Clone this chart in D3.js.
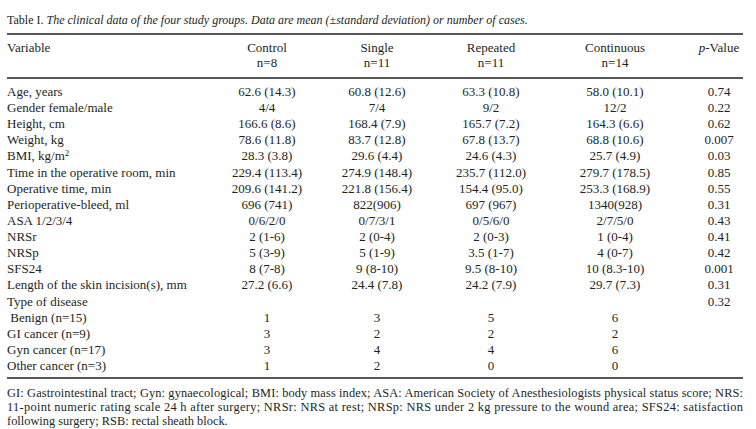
<!DOCTYPE html>
<html><head><meta charset="utf-8">
<script src="https://cdn.jsdelivr.net/npm/d3@7"></script>
<style>
html,body{margin:0;padding:0;background:#fff;}
svg{display:block;font-family:"Liberation Serif","Times New Roman",serif;}
</style></head>
<body>
<svg id="chart" width="756" height="429"></svg>
<script>
const groups = ["Control","Single","Repeated","Continuous"];
const groupN = ["n=8","n=11","n=11","n=14"];
const variables = ["Age, years","Gender female/male","Height, cm","Weight, kg","BMI, kg/m","Time in the operative room, min","Operative time, min","Perioperative-bleed, ml","ASA 1/2/3/4","NRSr","NRSp","SFS24","Length of the skin incision(s), mm","Type of disease"," Benign (n=15)","GI cancer (n=9)","Gyn cancer (n=17)","Other cancer (n=3)"];
const control = ["62.6 (14.3)","4/4","166.6 (8.6)","78.6 (11.8)","28.3 (3.8)","229.4 (113.4)","209.6 (141.2)","696 (741)","0/6/2/0","2 (1-6)","5 (3-9)","8 (7-8)","27.2 (6.6)","","1","3","3","1"];
const single = ["60.8 (12.6)","7/4","168.4 (7.9)","83.7 (12.8)","29.6 (4.4)","274.9 (148.4)","221.8 (156.4)","822(906)","0/7/3/1","2 (0-4)","5 (1-9)","9 (8-10)","24.4 (7.8)","","3","2","4","2"];
const repeated = ["63.3 (10.8)","9/2","165.7 (7.2)","67.8 (13.7)","24.6 (4.3)","235.7 (112.0)","154.4 (95.0)","697 (967)","0/5/6/0","2 (0-3)","3.5 (1-7)","9.5 (8-10)","24.2 (7.9)","","5","2","4","0"];
const continuous = ["58.0 (10.1)","12/2","164.3 (6.6)","68.8 (10.6)","25.7 (4.9)","279.7 (178.5)","253.3 (168.9)","1340(928)","2/7/5/0","1 (0-4)","4 (0-7)","10 (8.3-10)","29.7 (7.3)","","6","2","6","0"];
const pValues = ["0.74","0.22","0.62","0.007","0.03","0.85","0.55","0.31","0.43","0.41","0.42","0.001","0.31","0.32","","","",""];
const footnote = [
 "GI: Gastrointestinal tract; Gyn: gynaecological; BMI: body mass index; ASA: American Society of Anesthesiologists physical status score; NRS:",
 "11-point numeric rating scale 24 h after surgery; NRSr: NRS at rest; NRSp: NRS under 2 kg pressure to the wound area; SFS24: satisfaction",
 "following surgery; RSB: rectal sheath block."
];

const svg = d3.select("#chart");
const L = 7, R = 743;
const color = "#231f20";
const FS = 13;

// title
const title = svg.append("text").attr("x", L).attr("y", 24).attr("font-size", 12).attr("fill", color);
title.append("tspan").text("Table I. ");
title.append("tspan").attr("font-style","italic").text("The clinical data of the four study groups. Data are mean (\u00B1standard deviation) or number of cases.");

// rules
const rules = [34, 78, 378];
svg.selectAll("line.rule").data(rules).join("line")
  .attr("x1", L).attr("x2", R).attr("y1", d=>d).attr("y2", d=>d)
  .attr("stroke", color).attr("stroke-width", 1.3);

// column scale
const cols = ["Control","Single","Repeated","Continuous","p"];
const x = d3.scaleOrdinal().domain(cols).range([267, 377, 491, 615, 719]);

// header
svg.append("text").attr("x", L).attr("y", 52).attr("font-size", FS).attr("fill", color).text("Variable");
svg.selectAll("text.gh").data(groups).join("text").attr("class","gh")
  .attr("x", d=>x(d)).attr("y", 52).attr("text-anchor","middle").attr("font-size",FS).attr("fill",color).text(d=>d);
svg.selectAll("text.gn").data(groups.map((g,i)=>({g,n:groupN[i]}))).join("text").attr("class","gn")
  .attr("x", d=>x(d.g)).attr("y", 67).attr("text-anchor","middle").attr("font-size",FS).attr("fill",color).text(d=>d.n);
const ph = svg.append("text").attr("x", x("p")).attr("y", 52).attr("text-anchor","middle").attr("font-size",FS).attr("fill",color);
ph.append("tspan").attr("font-style","italic").text("p");
ph.append("tspan").text("-Value");

// rows
const y = d3.scalePoint().domain(d3.range(variables.length)).range([96, 370]);
const rows = svg.selectAll("g.row").data(variables.map((v,i)=>({v,i}))).join("g").attr("class","row")
  .attr("transform", d=>`translate(0,${y(d.i)})`);
rows.append("text").attr("x", L).attr("font-size",FS).attr("fill",color).attr("xml:space","preserve")
  .each(function(d){
    const t = d3.select(this);
    t.append("tspan").text(d.v);
    if (d.v === "BMI, kg/m") t.append("tspan").attr("dy",-4).attr("font-size",9).text("2");
  });
const series = {Control:control, Single:single, Repeated:repeated, Continuous:continuous, p:pValues};
cols.forEach(c=>{
  rows.append("text").attr("x", x(c)).attr("text-anchor","middle").attr("font-size",FS).attr("fill",color)
    .text(d=>series[c][d.i]);
});

// footnote
const fy = d3.scalePoint().domain([0,1,2]).range([397, 425]);
svg.selectAll("text.fn").data(footnote).join("text").attr("class","fn")
  .attr("x", L).attr("y", (d,i)=>fy(i)).attr("font-size", 12.4).attr("fill", color)
  .each(function(d,i){ if(i<2){ d3.select(this).attr("textLength", R-L).attr("lengthAdjust","spacing"); } })
  .text(d=>d);
</script>
</body></html>
